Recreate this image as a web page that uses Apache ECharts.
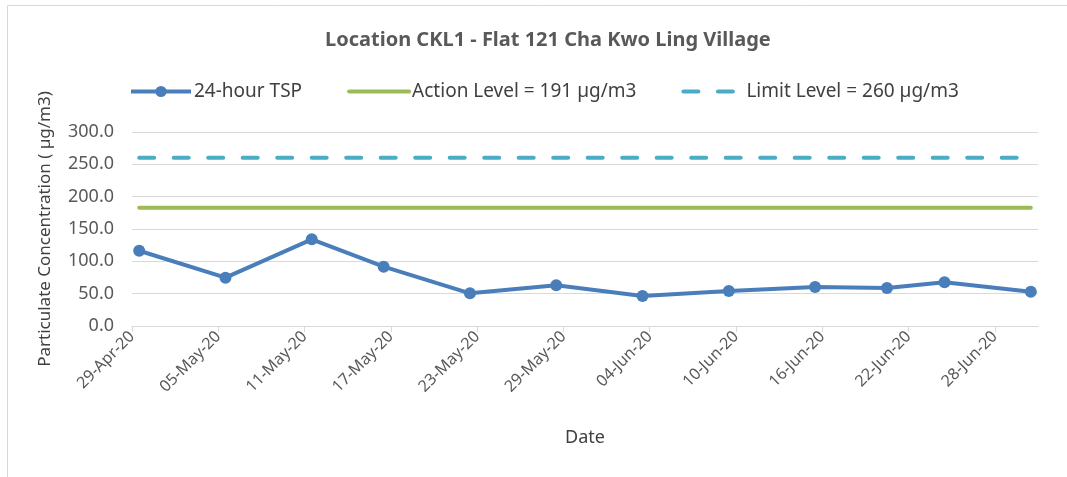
<!DOCTYPE html>
<html>
<head>
<meta charset="utf-8">
<script src="https://cdn.jsdelivr.net/npm/echarts@6/dist/echarts.min.js"></script>
<style>html,body{margin:0;padding:0;background:#fff;}#c{width:1067px;height:477px;}</style>
</head>
<body>
<div id="c"></div>
<script>
// ---- data ----
const titleText = 'Location CKL1 - Flat 121 Cha Kwo Ling Village';
const sampleDates = ['2020-04-29','2020-05-05','2020-05-11','2020-05-16','2020-05-22','2020-05-28','2020-06-03','2020-06-09','2020-06-15','2020-06-20','2020-06-24','2020-06-30'];
const tspValues = [116.4, 74.7, 134.0, 91.7, 50.5, 62.9, 46.4, 54.1, 60.3, 58.8, 67.5, 53.0];
const actionLevelDrawn = 183;
const limitLevel = 260;
const seriesNames = ['24-hour TSP', 'Action Level = 191 µg/m3', 'Limit Level = 260 µg/m3'];
const xTickDates = ['2020-04-29','2020-05-05','2020-05-11','2020-05-17','2020-05-23','2020-05-29','2020-06-04','2020-06-10','2020-06-16','2020-06-22','2020-06-28'];
const xAxisStart = '2020-04-29';
const xAxisEnd = '2020-07-01';
const yMin = 0, yMax = 300, yStep = 50;

// ---- helpers ----
const DAY = 86400000;
const months = ['Jan','Feb','Mar','Apr','May','Jun','Jul','Aug','Sep','Oct','Nov','Dec'];
function toMs(s){ const p = s.split('-').map(Number); return Date.UTC(p[0], p[1]-1, p[2]); }
function fmt(ms){ const d = new Date(ms); const dd = String(d.getUTCDate()).padStart(2,'0'); return dd + '-' + months[d.getUTCMonth()] + '-' + String(d.getUTCFullYear()).slice(2); }
// Excel date axis: each day occupies a slot; points sit at slot centre
const xs = sampleDates.map(s => toMs(s) + DAY/2);
const tspData = xs.map((x,i) => [x, tspValues[i]]);
const actionData = xs.map(x => [x, actionLevelDrawn]);
const limitData = xs.map(x => [x, limitLevel]);
const tickMs = xTickDates.map(toMs);

const font = 'Noto Sans';
const txt = '#595959';
const blue = '#4a7ebb', green = '#9bbb59', cyan = '#4bacc6';
const chart = echarts.init(document.getElementById('c'), null, {renderer:'canvas'});
chart.setOption({
  animation: false,
  backgroundColor: '#fff',
  graphic: [{type:'rect', shape:{x:7.5, y:5.5, width:1070, height:480}, style:{fill:'none', stroke:'#d9d9d9', lineWidth:1}, silent:true}],
  title: {text: titleText, left: 320, top: 25,
    textStyle:{fontFamily:font, fontSize:20, fontWeight:'bold', color:txt}},
  legend: {left: 124, top: 77, itemWidth: 60, itemHeight: 14, itemGap: 45,
    textStyle:{fontFamily:font, fontSize:19, color:'#404040', padding:[0,0,0,-2]},
    lineStyle: {width: 4},
    data: [
      {name: seriesNames[0]},
      {name: seriesNames[1], itemStyle:{opacity:0}},
      {name: seriesNames[2], itemStyle:{opacity:0}}
    ]},
  grid: {left: 132, right: 29, top: 132, bottom: 151, containLabel:false},
  xAxis: {
    type: 'value', min: toMs(xAxisStart), max: toMs(xAxisEnd),
    name: 'Date', nameLocation: 'middle', nameGap: 103,
    nameTextStyle: {fontFamily:font, fontSize:18, color:'#404040'},
    axisLine: {show:true, lineStyle:{color:'#d9d9d9', width:1}},
    axisTick: {show:true, length:6, lineStyle:{color:'#d9d9d9'}, customValues: tickMs},
    axisLabel: {rotate:45, fontFamily:font, fontSize:16, color:txt, margin:8, customValues: tickMs, formatter: v => fmt(v)},
    splitLine: {show:false}
  },
  yAxis: {
    type: 'value', min: yMin, max: yMax, interval: yStep,
    name: 'Particulate Concentration ( µg/m3)', nameLocation:'middle', nameGap: 78,
    nameTextStyle: {fontFamily:font, fontSize:17, color:'#404040'},
    axisLine: {show:false}, axisTick: {show:false},
    axisLabel: {fontFamily:font, fontSize:18, color:txt, margin:18, formatter: v => v.toFixed(1)},
    splitLine: {lineStyle:{color:'#d9d9d9', width:1}}
  },
  series: [
    {name: seriesNames[0], type:'line', data: tspData, symbol:'circle', symbolSize:12,
      lineStyle:{color:blue, width:4}, itemStyle:{color:blue}, z:5},
    {name: seriesNames[1], type:'line', data: actionData, symbol:'none',
      lineStyle:{color:green, width:4, cap:'round'}, itemStyle:{color:green}},
    {name: seriesNames[2], type:'line', data: limitData, symbol:'none',
      lineStyle:{color:cyan, width:4, type:[15,19.5], cap:'round'}, itemStyle:{color:cyan}}
  ]
});
</script>
</body>
</html>
